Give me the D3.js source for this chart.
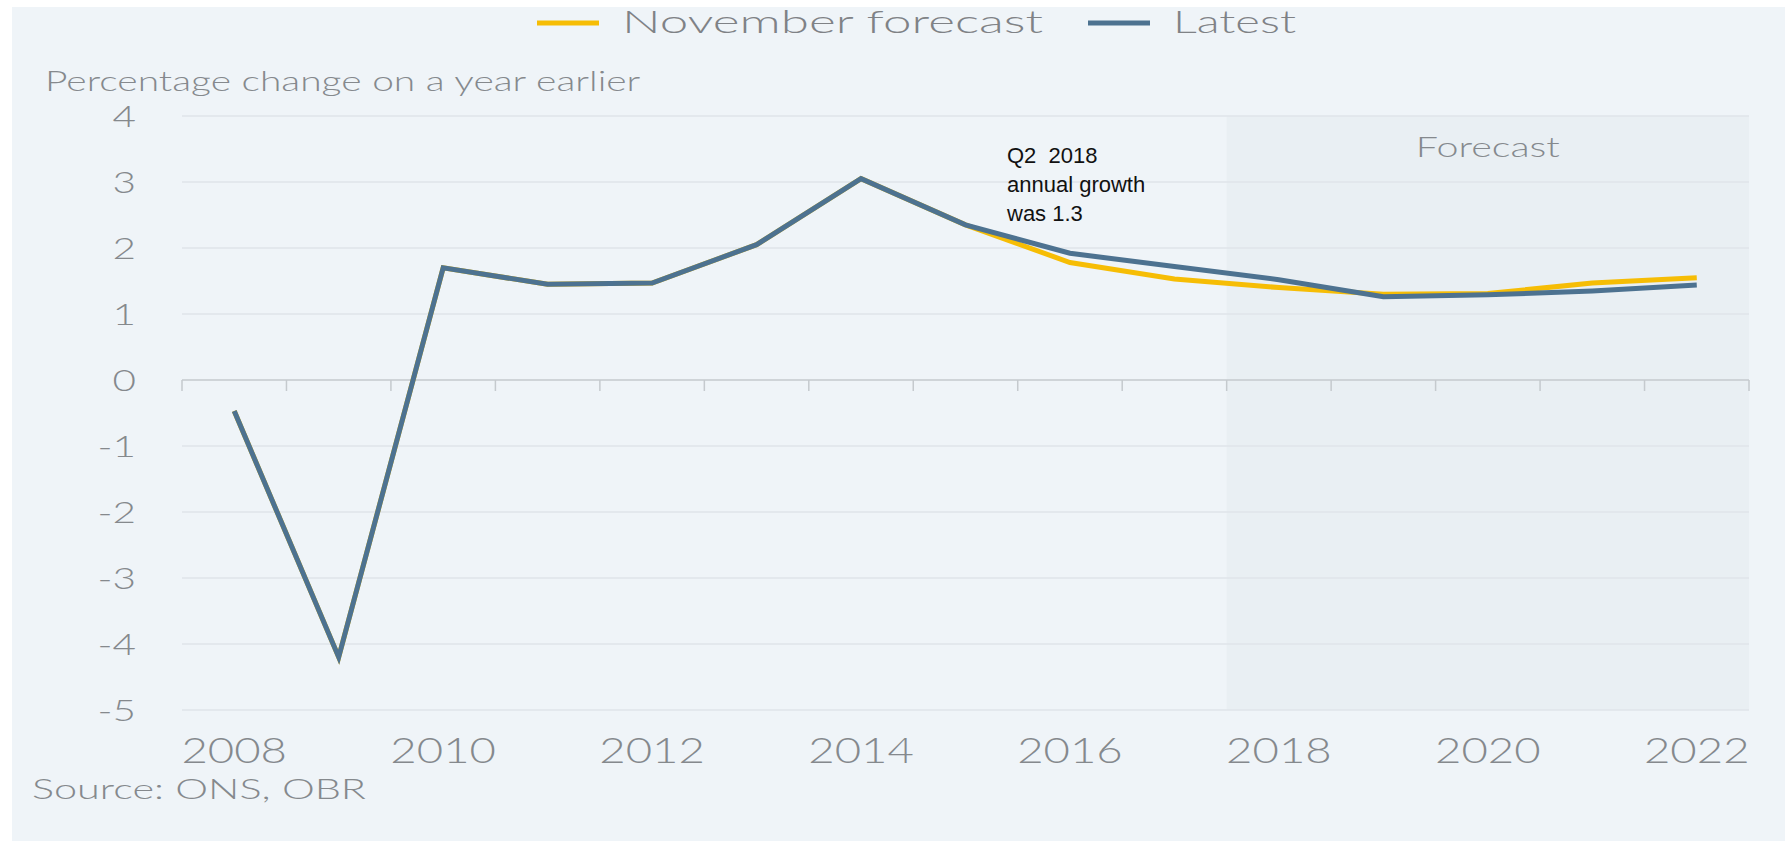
<!DOCTYPE html>
<html lang="en">
<head>
<meta charset="utf-8">
<title>GDP growth</title>
<script type="text/javascript" src="https://d3js.org/d3.v7.min.js"></script>
<style>
body { margin: 0; background: #fff; }
.lbl { font-family: Lato, "Open Sans", sans-serif; font-weight: 300; fill: #85898d; }
.note { font-family: "Liberation Sans Narrow", "Liberation Sans", sans-serif; fill: #111; }
</style>
</head>
<body>
<div id="chart"></div>
<script type="text/javascript">

// data
var years = [2008, 2009, 2010, 2011, 2012, 2013, 2014, 2015, 2016, 2017, 2018, 2019, 2020, 2021, 2022];
var novemberForecast = [-0.47, -4.2, 1.7, 1.45, 1.47, 2.05, 3.05, 2.35, 1.78, 1.53, 1.4, 1.3, 1.31, 1.47, 1.55];
var latest = [-0.47, -4.2, 1.7, 1.45, 1.47, 2.05, 3.05, 2.35, 1.92, 1.72, 1.52, 1.26, 1.29, 1.35, 1.44];
var yTicks = [4, 3, 2, 1, 0, -1, -2, -3, -4, -5];
var xLabels = [2008, 2010, 2012, 2014, 2016, 2018, 2020, 2022];
var forecastStart = 2018;
var noteLines = ["Q2  2018", "annual growth", "was 1.3"];

var w = 1787, h = 841;

var svg = d3.select("#chart").append("svg")
    .attr("width", w)
    .attr("height", h);

// stretch text horizontally, the original type is very wide
function stretch(sel, k) {
  sel.each(function() {
    var len = this.getComputedTextLength();
    d3.select(this).attr("textLength", len * k).attr("lengthAdjust", "spacingAndGlyphs");
  });
}

svg.append("rect")
    .attr("x", 12).attr("y", 7)
    .attr("width", 1773).attr("height", 834)
    .attr("fill", "#eff4f8");

var x = d3.scaleBand().domain(years).range([182, 1749]);
var y = d3.scaleLinear().domain([-5, 4]).range([710, 116]);
var cx = function(d) { return x(d) + x.bandwidth() / 2; };

// forecast shading
svg.append("rect")
    .attr("x", x(forecastStart))
    .attr("y", y(4))
    .attr("width", x.range()[1] - x(forecastStart))
    .attr("height", y(-5) - y(4))
    .attr("fill", "#e9eff3");

// gridlines
svg.append("g").selectAll("line")
    .data(yTicks.filter(function(d) { return d !== 0; }))
    .enter().append("line")
    .attr("x1", 182).attr("x2", 1749)
    .attr("y1", function(d) { return y(d); })
    .attr("y2", function(d) { return y(d); })
    .attr("stroke", "#dfe5ea")
    .attr("stroke-width", 1.5);

// zero line with year boundary ticks
svg.append("line")
    .attr("x1", 182).attr("x2", 1749)
    .attr("y1", y(0)).attr("y2", y(0))
    .attr("stroke", "#c5cace").attr("stroke-width", 1.5);

svg.append("g").selectAll("line")
    .data(years.concat([years[years.length - 1] + 1]))
    .enter().append("line")
    .attr("x1", function(d, i) { return i < years.length ? x(d) : x.range()[1]; })
    .attr("x2", function(d, i) { return i < years.length ? x(d) : x.range()[1]; })
    .attr("y1", y(0)).attr("y2", y(0) + 11)
    .attr("stroke", "#c5cace").attr("stroke-width", 1.5);

// y tick labels
var yl = svg.append("g").selectAll("text")
    .data(yTicks)
    .enter().append("text")
    .attr("class", "lbl")
    .attr("x", 136)
    .attr("y", function(d) { return y(d); })
    .attr("dy", "0.36em")
    .attr("text-anchor", "end")
    .style("font-size", "30px")
    .text(function(d) { return d; });
stretch(yl, 1.35);

// x tick labels
var xl = svg.append("g").selectAll("text")
    .data(xLabels)
    .enter().append("text")
    .attr("class", "lbl")
    .attr("x", cx)
    .attr("y", 763)
    .attr("text-anchor", "middle")
    .style("font-size", "35px")
    .text(function(d) { return d; });
stretch(xl, 1.3);

// lines
var line = d3.line()
    .x(function(d) { return cx(d[0]); })
    .y(function(d) { return y(d[1]); });

svg.append("path")
    .datum(years.map(function(d, i) { return [d, novemberForecast[i]]; }))
    .attr("d", line)
    .attr("fill", "none")
    .attr("stroke", "#f6bd05")
    .attr("stroke-width", 5);

svg.append("path")
    .datum(years.map(function(d, i) { return [d, latest[i]]; }))
    .attr("d", line)
    .attr("fill", "none")
    .attr("stroke", "#4d7290")
    .attr("stroke-width", 5);

// texts
var title = svg.append("text").attr("class", "lbl")
    .attr("x", 45).attr("y", 91)
    .style("font-size", "26.5px")
    .text("Percentage change on a year earlier");
stretch(title, 1.47);

var fc = svg.append("text").attr("class", "lbl")
    .attr("x", (x(forecastStart) + x.range()[1]) / 2).attr("y", 157)
    .attr("text-anchor", "middle")
    .style("font-size", "28px")
    .text("Forecast");
stretch(fc, 1.41);

var src = svg.append("text").attr("class", "lbl")
    .attr("x", 32).attr("y", 799)
    .style("font-size", "28px")
    .text("Source: ONS, OBR");
stretch(src, 1.48);

// legend
var legend = [
  { name: "November forecast", color: "#f6bd05", x: 537, k: 1.6 },
  { name: "Latest", color: "#4d7290", x: 1088, k: 1.47 }
];
legend.forEach(function(d) {
  svg.append("line")
      .attr("x1", d.x).attr("x2", d.x + 62)
      .attr("y1", 23).attr("y2", 23)
      .attr("stroke", d.color).attr("stroke-width", 5);
  var t = svg.append("text").attr("class", "lbl")
      .attr("x", d.x + 85).attr("y", 33)
      .style("font-size", "32px")
      .style("fill", "#7f8286")
      .text(d.name);
  stretch(t, d.k);
});

// annotation
svg.append("g").selectAll("text")
    .data(noteLines)
    .enter().append("text")
    .attr("class", "note")
    .attr("x", 1007)
    .attr("y", function(d, i) { return 163 + i * 29; })
    .style("font-size", "22px")
    .style("white-space", "pre")
    .attr("xml:space", "preserve")
    .text(function(d) { return d; });

</script>
</body>
</html>
